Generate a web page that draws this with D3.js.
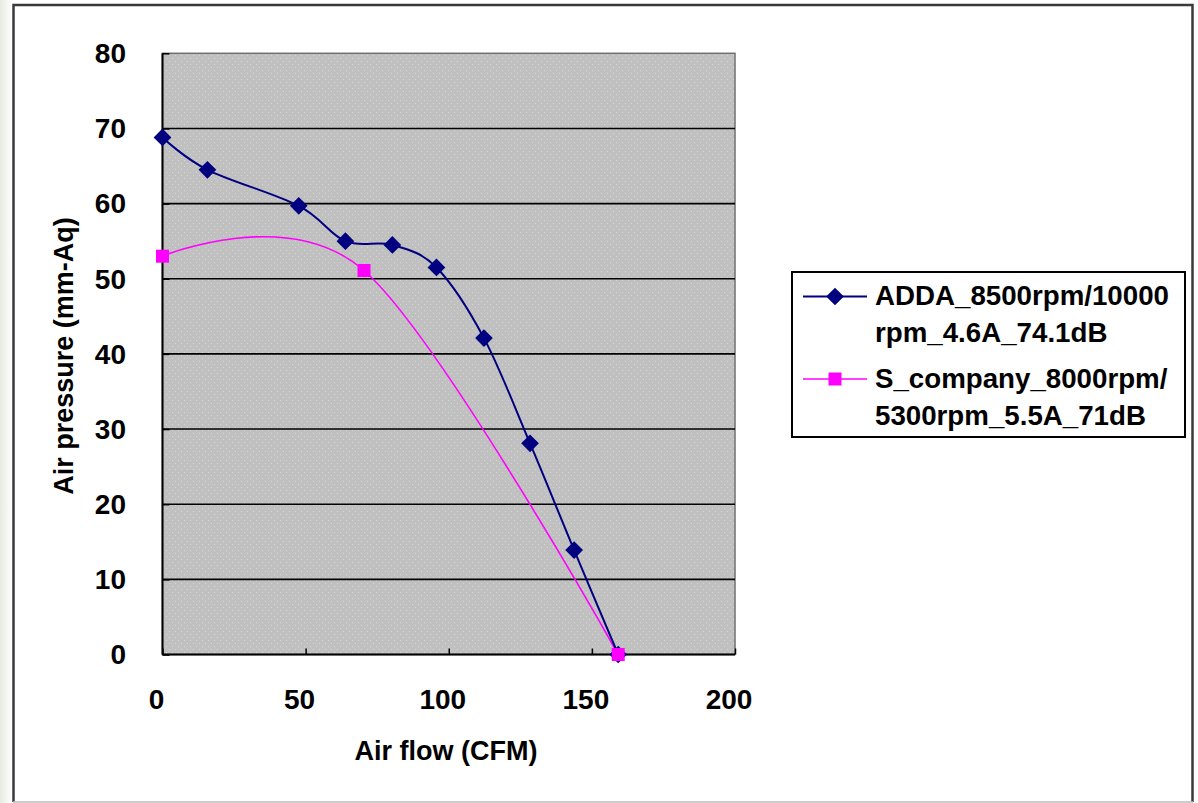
<!DOCTYPE html>
<html><head><meta charset="utf-8">
<script src="https://cdn.jsdelivr.net/npm/d3@7"></script>
<style>html,body{margin:0;padding:0;background:#fff;}svg{display:block;}</style>
</head><body>
<svg id="chart" width="1198" height="803"></svg>
<script>
// ---- data ----
const addaFlow     = [0, 15.7, 47.6, 63.9, 80.3, 95.7, 112.3, 128.4, 143.8, 159.2];
const addaPressure = [68.8, 64.5, 59.7, 55.0, 54.5, 51.5, 42.1, 28.1, 13.9, 0];
const sFlow        = [0, 70.4, 159.2];
const sPressure    = [53.0, 51.1, 0];
const xTicks = [0, 50, 100, 150, 200];
const yTicks = [0, 10, 20, 30, 40, 50, 60, 70, 80];
const seriesNames = [
  ["ADDA_8500rpm/10000", "rpm_4.6A_74.1dB"],
  ["S_company_8000rpm/", "5300rpm_5.5A_71dB"]
];
const xTitle = "Air flow (CFM)";
const yTitle = "Air pressure (mm-Aq)";

const svg = d3.select("#chart");
const FONT = "'Liberation Sans', Arial, sans-serif";

// background strip and frame
const defs = svg.append("defs");
const grad = defs.append("linearGradient").attr("id","strip").attr("x1",0).attr("x2",1).attr("y1",0).attr("y2",0);
grad.append("stop").attr("offset","0%").attr("stop-color","#e6ece0");
grad.append("stop").attr("offset","100%").attr("stop-color","#ffffff");
svg.append("rect").attr("x",0).attr("y",0).attr("width",12).attr("height",803).attr("fill","url(#strip)");
svg.append("rect").attr("x",14).attr("y",5).attr("width",1178).attr("height",797)
  .attr("fill","#fff").attr("stroke","none");
svg.append("path").attr("d","M13.5,802 V5 H1192.5 V802").attr("fill","none").attr("stroke","#3a3a3a").attr("stroke-width",2.5);
svg.append("line").attr("x1",13).attr("x2",1193).attr("y1",802).attr("y2",802).attr("stroke","#bbb").attr("stroke-width",1.5);

// dotted pattern
const pat = defs.append("pattern").attr("id","dots").attr("patternUnits","userSpaceOnUse").attr("width",6).attr("height",6);
pat.append("rect").attr("width",6).attr("height",6).attr("fill","#c0c0c0");
pat.append("rect").attr("x",1).attr("y",1).attr("width",1).attr("height",1).attr("fill","#d6d6d6");
pat.append("rect").attr("x",4).attr("y",4).attr("width",1).attr("height",1).attr("fill","#d6d6d6");

// scales
const x = d3.scaleLinear().domain([0,200]).range([162.5,735]);
const y = d3.scaleLinear().domain([0,80]).range([654.5,53.3]);

// plot area
svg.append("rect").attr("x",x(0)).attr("y",y(80)).attr("width",x(200)-x(0)).attr("height",y(0)-y(80))
  .attr("fill","url(#dots)").attr("stroke","#707070").attr("stroke-width",1.5);

// gridlines
svg.append("g").selectAll("line").data(yTicks.filter(d=>d>0 && d<80)).join("line")
  .attr("x1",x(0)).attr("x2",x(200)).attr("y1",d=>y(d)).attr("y2",d=>y(d))
  .attr("stroke","#000").attr("stroke-width",1.6);

// axes (ticks pointing inward)
const xAxis = svg.append("g").attr("transform",`translate(0,${y(0)})`)
  .call(d3.axisTop(x).tickValues(xTicks).tickSize(6).tickFormat(""));
xAxis.select(".domain").attr("stroke","#000").attr("stroke-width",2).attr("d",`M${x(0)},0H${x(200)}`);
xAxis.selectAll(".tick line").attr("stroke","#000").attr("stroke-width",1.5);
const yAxis = svg.append("g").attr("transform",`translate(${x(0)},0)`)
  .call(d3.axisRight(y).tickValues(yTicks).tickSize(7).tickFormat(""));
yAxis.select(".domain").attr("stroke","#000").attr("stroke-width",2).attr("d",`M0,${y(0)}V${y(80)}`);
yAxis.selectAll(".tick line").attr("stroke","#000").attr("stroke-width",1.5);

// tick labels
svg.append("g").selectAll("text").data(xTicks).join("text")
  .attr("x",d=>x(d)-6).attr("y",709).attr("text-anchor","middle")
  .attr("font-family",FONT).attr("font-weight","bold").attr("font-size",28).attr("fill","#000")
  .text(d=>d);
svg.append("g").selectAll("text").data(yTicks).join("text")
  .attr("x",126).attr("y",d=>y(d)).attr("dy","0.35em").attr("text-anchor","end")
  .attr("font-family",FONT).attr("font-weight","bold").attr("font-size",28).attr("fill","#000")
  .text(d=>d);

// axis titles
svg.append("text").attr("x",446).attr("y",760).attr("text-anchor","middle")
  .attr("font-family",FONT).attr("font-weight","bold").attr("font-size",27).attr("fill","#000").text(xTitle);
svg.append("text").attr("transform","translate(73,356) rotate(-90)").attr("text-anchor","middle")
  .attr("font-family",FONT).attr("font-weight","bold").attr("font-size",27).attr("fill","#000").text(yTitle);

// lines
const line = d3.line().x(d=>x(d[0])).y(d=>y(d[1])).curve(d3.curveCardinal.tension(0));
const adda = addaFlow.map((f,i)=>[f, addaPressure[i]]);
const scomp = sFlow.map((f,i)=>[f, sPressure[i]]);
const diamond = d3.symbol().type(d3.symbolDiamond2).size(200);

svg.append("path").datum(scomp).attr("d",line).attr("fill","none").attr("stroke","#ff00ff").attr("stroke-width",1.6);
svg.append("path").datum(adda).attr("d",line).attr("fill","none").attr("stroke","#000080").attr("stroke-width",2);
svg.append("g").selectAll("path").data(adda).join("path")
  .attr("transform",d=>`translate(${x(d[0])},${y(d[1])})`).attr("d",diamond).attr("fill","#000080");
svg.append("g").selectAll("rect").data(scomp).join("rect")
  .attr("x",d=>x(d[0])-6.5).attr("y",d=>y(d[1])-6.5).attr("width",13).attr("height",13).attr("fill","#ff00ff");

// legend
const lg = svg.append("g");
lg.append("rect").attr("x",792).attr("y",272).attr("width",393).attr("height",165)
  .attr("fill","#fff").attr("stroke","#000").attr("stroke-width",2);
// entry 1
lg.append("line").attr("x1",803).attr("x2",867).attr("y1",296.5).attr("y2",296.5).attr("stroke","#000080").attr("stroke-width",2);
lg.append("path").attr("transform","translate(835,296.5)").attr("d",diamond).attr("fill","#000080");
// entry 2
lg.append("line").attr("x1",803).attr("x2",867).attr("y1",379).attr("y2",379).attr("stroke","#ff00ff").attr("stroke-width",1.6);
lg.append("rect").attr("x",828.5).attr("y",372.5).attr("width",13).attr("height",13).attr("fill","#ff00ff");
const baselines = [[305,341.5],[388,425]];
seriesNames.forEach((lines,i)=>{
  lines.forEach((t,j)=>{
    lg.append("text").attr("x",875).attr("y",baselines[i][j])
      .attr("font-family",FONT).attr("font-weight","bold").attr("font-size",27.7).attr("fill","#000").text(t);
  });
});
</script>
</body></html>
